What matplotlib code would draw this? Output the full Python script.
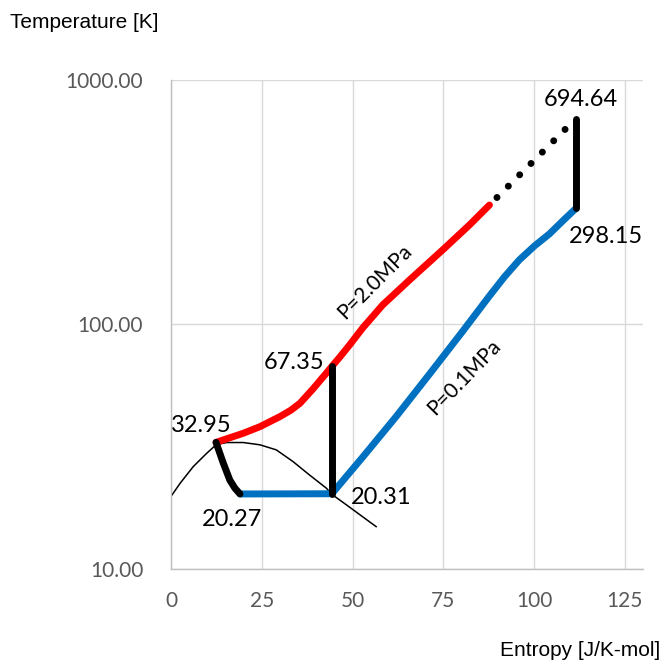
import matplotlib
matplotlib.use("Agg")
import matplotlib.pyplot as plt
from matplotlib.ticker import NullLocator

# Saturation dome of para-hydrogen (entropy J/K-mol, temperature K)
dome_s = [0.0, 2.5, 6.1, 9.8, 12.4, 15.3, 19.9, 24.5, 29.0, 33.6, 38.2, 42.8, 44.3, 48.3, 56.5]
dome_T = [19.8, 22.4, 26.2, 29.7, 32.2, 32.9, 32.9, 32.2, 30.7, 27.5, 24.2, 21.4, 20.2, 18.3, 14.9]

# Isobar P = 2.0 MPa
red_s = [12.4, 19.9, 24.5, 30.0, 33.0, 35.5, 39.1, 42.8, 44.3, 46.5, 49.2, 52.8, 58.3, 65.7, 74.8, 82.2, 87.7]
red_T = [32.95, 35.9, 38.2, 42.0, 44.6, 47.6, 54.5, 63.3, 67.35, 73.6, 82.5, 96.8, 120.2, 152.1, 201.7, 255.3, 308.0]

# Isobar P = 0.1 MPa
blue_s = [19.0, 44.3, 52.9, 62.0, 71.2, 80.4, 87.7, 91.8, 95.9, 100.1, 104.2, 108.3, 111.5]
blue_T = [20.27, 20.31, 28.8, 42.0, 62.7, 94.1, 130.8, 156.4, 183.5, 209.5, 234.5, 268.8, 298.15]

# Critical point down to saturated liquid
liq_s = [12.4, 14.4, 16.2, 17.6, 19.0]
liq_T = [32.95, 27.1, 23.1, 21.4, 20.27]

# Isentropic steps
step1_s = [44.3, 44.3]
step1_T = [20.31, 67.35]
step2_s = [111.5, 111.5]
step2_T = [298.15, 694.64]

# Extrapolated segment
ext_s = [87.7, 111.5]
ext_T = [308.0, 694.64]

# Annotated state points
labels = ["32.95", "20.27", "67.35", "20.31", "694.64", "298.15"]
label_s = [12.4, 19.0, 44.3, 44.3, 111.5, 111.5]
label_T = [32.95, 20.27, 67.35, 20.31, 694.64, 298.15]
label_off = [(-10.3, 12.0), (-5.8, -18.4), (-27.4, 3.0), (35.3, -2.8), (3.4, 13.6), (21.6, -20.2)]

x_ticks = [0, 25, 50, 75, 100, 125]
y_ticks = [10, 100, 1000]
y_ticklabels = ["10.00", "100.00", "1000.00"]

fig = plt.figure(figsize=(6.61, 6.62), dpi=100)
ax = fig.add_axes([0.2587, 0.1405, 0.9728 - 0.2587, 0.8792 - 0.1405])

ax.set_yscale("log")
ax.set_xlim(0, 130)
ax.set_ylim(10, 1000)

ax.set_xticks(x_ticks)
ax.set_yticks(y_ticks)
ax.set_yticklabels(y_ticklabels)
ax.yaxis.set_minor_locator(NullLocator())
ax.grid(True, color="#d9d9d9", linewidth=1.0)
ax.set_axisbelow(True)
for side in ["top", "right"]:
    ax.spines[side].set_visible(False)
for side in ["left", "bottom"]:
    ax.spines[side].set_color("#bfbfbf")
    ax.spines[side].set_linewidth(1.0)
ax.tick_params(axis="both", length=0, labelcolor="#595959", labelsize=15)
ax.tick_params(axis="y", pad=20)
ax.tick_params(axis="x", pad=16)
for lab in ax.get_xticklabels() + ax.get_yticklabels():
    lab.set_fontfamily("Lato")

lw = 5
ax.plot(dome_s, dome_T, color="black", lw=1.1, zorder=2)
ax.plot(ext_s, ext_T, color="black", lw=lw, linestyle=(0.78, (0.01, 2.3)),
        dash_capstyle="round", zorder=3)
ax.plot(red_s, red_T, color="#ff0000", lw=lw, solid_capstyle="round",
        solid_joinstyle="round", zorder=4)
ax.plot(blue_s, blue_T, color="#0070c0", lw=lw, solid_capstyle="round",
        solid_joinstyle="round", zorder=4)
ax.plot(liq_s, liq_T, color="black", lw=lw, solid_capstyle="round",
        solid_joinstyle="round", zorder=5)
ax.plot(step1_s, step1_T, color="black", lw=lw, solid_capstyle="round", zorder=5)
ax.plot(step2_s, step2_T, color="black", lw=lw, solid_capstyle="round", zorder=5)

for text, s, T, off in zip(labels, label_s, label_T, label_off):
    ax.annotate(text, xy=(s, T), xytext=off, textcoords="offset points",
                ha="center", va="center", fontsize=17, family="Lato", color="black")

ax.text(56.1, 149.2, "P=2.0MPa", rotation=45, ha="center", va="center",
        fontsize=15, family="Lato", rotation_mode="anchor")
ax.text(80.8, 61.0, "P=0.1MPa", rotation=46, ha="center", va="center",
        fontsize=15, family="Lato", rotation_mode="anchor")

fig.text(10 / 661, 1 - 23 / 662, "Temperature [K]", ha="left", va="center",
         fontsize=15, family="Liberation Sans")
fig.text(660 / 661, 1 - 650 / 662, "Entropy [J/K-mol]", ha="right", va="center",
         fontsize=15, family="Liberation Sans")

fig.savefig("out.png", dpi=100)
